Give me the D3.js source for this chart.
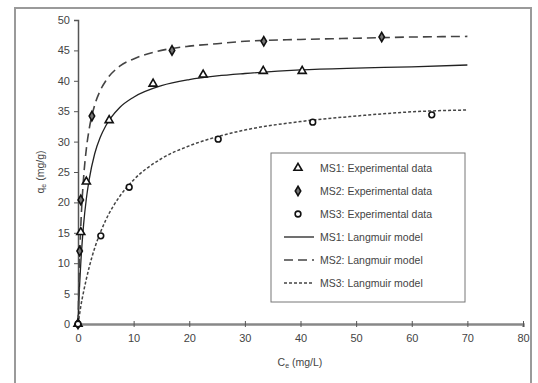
<!DOCTYPE html>
<html><head><meta charset="utf-8">
<script src="https://cdn.jsdelivr.net/npm/d3@7"></script>
<style>body{margin:0;background:#fff}svg{display:block}text{font-family:"Liberation Sans",Arial,sans-serif}</style>
</head><body><svg id="c" width="538" height="383"></svg>
<script>
// Experimental data
const ms1C = [0, 0.5, 1.5, 5.6, 13.5, 22.5, 33.3, 40.3];
const ms1Q = [0, 15.1, 23.4, 33.5, 39.5, 41.0, 41.6, 41.6];
const ms2C = [0, 0.3, 0.5, 2.5, 16.9, 33.4, 54.6];
const ms2Q = [0, 12.0, 20.4, 34.2, 45.0, 46.5, 47.2];
const ms3C = [0, 4.1, 9.2, 25.2, 42.2, 63.6];
const ms3Q = [0, 14.5, 22.5, 30.4, 33.2, 34.4];
// Langmuir model curves
const modelC = [0, 0.25, 0.5, 1, 1.5, 2, 3, 4, 5, 7.5, 10, 15, 20, 25, 30, 40, 50, 60, 70];
const m1Q = [0, 5.7, 10.0, 16.3, 20.6, 23.7, 28.0, 30.7, 32.6, 35.6, 37.3, 39.2, 40.2, 40.8, 41.2, 41.8, 42.1, 42.3, 42.6];
const m2Q = [0, 9.6, 16.0, 24.0, 28.8, 32.0, 36.0, 38.4, 40.0, 42.4, 43.6, 45.0, 45.7, 46.1, 46.5, 46.8, 47.0, 47.2, 47.3];
const m3Q = [0, 1.4, 2.9, 5.3, 7.4, 9.3, 12.5, 15.0, 17.1, 21.0, 23.7, 27.2, 29.3, 30.8, 31.9, 33.3, 34.2, 34.9, 35.2];
const xTicks = [0, 10, 20, 30, 40, 50, 60, 70, 80];
const yTicks = [0, 5, 10, 15, 20, 25, 30, 35, 40, 45, 50];
const legendLabels = ["MS1: Experimental data", "MS2: Experimental data", "MS3: Experimental data",
  "MS1: Langmuir model", "MS2: Langmuir model", "MS3: Langmuir model"];

const svg = d3.select("#c");
svg.append("rect").attr("x", 15).attr("y", 8).attr("width", 516).attr("height", 390)
  .attr("fill", "#fff").attr("stroke", "#9a9a9a").attr("stroke-width", 2);

const x = d3.scaleLinear().domain([0, 80]).range([78, 523]);
const y = d3.scaleLinear().domain([0, 50]).range([324, 20]);
const txt = "#444";

// y axis
const ya = svg.append("g").attr("transform", "translate(78,0)")
  .call(d3.axisLeft(y).tickValues(yTicks).tickSize(4).tickPadding(4));
ya.select(".domain").attr("stroke", "#555").attr("stroke-width", 1.5);
ya.selectAll(".tick line").attr("stroke", "#555");
ya.selectAll("text").attr("font-size", 11).attr("fill", txt);

// x axis
const xa = svg.append("g").attr("transform", "translate(0,324)")
  .call(d3.axisBottom(x).tickValues(xTicks).tickSize(3).tickPadding(7));
xa.select(".domain").attr("stroke", "#888").attr("stroke-width", 2.5);
xa.selectAll(".tick line").attr("stroke", "#555").attr("y1", -3);
xa.selectAll("text").attr("font-size", 11).attr("fill", txt);

// axis titles
svg.append("text").attr("x", 300).attr("y", 366).attr("text-anchor", "middle")
  .attr("font-size", 10.5).attr("fill", txt)
  .html('C<tspan font-size="7" dy="2">e</tspan><tspan dy="-2"> (mg/L)</tspan>');
svg.append("text").attr("transform", "translate(44,172) rotate(-90)").attr("text-anchor", "middle")
  .attr("font-size", 10.5).attr("fill", txt)
  .html('q<tspan font-size="7" dy="2">e</tspan><tspan dy="-2"> (mg/g)</tspan>');

// model curves
const line = d3.line().x(d => x(d[0])).y(d => y(d[1])).curve(d3.curveMonotoneX);
const styles = [
  {q: m1Q, dash: null, w: 1.3, c: "#222"},
  {q: m2Q, dash: "9,5", w: 1.6, c: "#444"},
  {q: m3Q, dash: "3,2", w: 1.5, c: "#444"}
];
styles.forEach(s => {
  svg.append("path").datum(modelC.map((c, i) => [c, s.q[i]]))
    .attr("d", line).attr("fill", "none").attr("stroke", s.c)
    .attr("stroke-width", s.w).attr("stroke-dasharray", s.dash);
});

// markers
const sym = {
  tri: d3.symbol().type(d3.symbolTriangle).size(28),
  dia: d3.symbol().type(d3.symbolDiamond).size(26),
  cir: d3.symbol().type(d3.symbolCircle).size(26)
};
const mk = [
  {C: ms1C, Q: ms1Q, s: sym.tri, fill: "#fff"},
  {C: ms2C, Q: ms2Q, s: sym.dia, fill: "#777"},
  {C: ms3C, Q: ms3Q, s: sym.cir, fill: "#fff"}
];
mk.forEach(m => {
  svg.append("g").selectAll("path").data(m.C.map((c, i) => [c, m.Q[i]])).join("path")
    .attr("d", m.s).attr("transform", d => `translate(${x(d[0])},${y(d[1])})`)
    .attr("fill", m.fill).attr("stroke", "#111").attr("stroke-width", 1.6);
});

// legend
const lg = svg.append("g");
lg.append("rect").attr("x", 271).attr("y", 153).attr("width", 194).attr("height", 149)
  .attr("fill", "#fff").attr("stroke", "#777").attr("stroke-width", 1);
legendLabels.forEach((l, i) => {
  const yy = 168 + i * 23;
  if (i < 3) {
    lg.append("path").attr("d", mk[i].s).attr("transform", `translate(298,${yy})`)
      .attr("fill", mk[i].fill).attr("stroke", "#111").attr("stroke-width", 1.6);
  } else {
    const s = styles[i - 3];
    lg.append("line").attr("x1", 284).attr("x2", 314).attr("y1", yy).attr("y2", yy)
      .attr("stroke", s.c).attr("stroke-width", s.w).attr("stroke-dasharray", s.dash);
  }
  lg.append("text").attr("x", 320).attr("y", yy + 4).attr("font-size", 10.5)
    .attr("fill", txt).text(l);
});
</script></body></html>
